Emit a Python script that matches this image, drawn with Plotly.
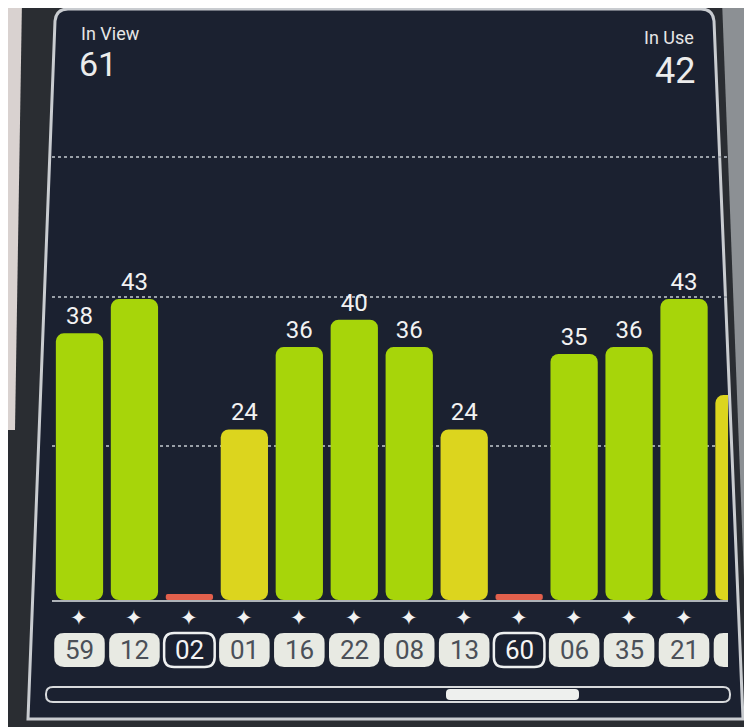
import plotly.graph_objects as go

# satellites shown in the signal strength view
prn = ["59", "12", "02", "01", "16", "22", "08", "13", "60", "06", "35", "21", ""]
snr = [38, 43, 0, 24, 36, 40, 36, 24, 0, 35, 36, 43, 29]
outlined = ["02", "60"]
in_view = 61
in_use = 42
grid_vals = [21.6, 43.3, 63.7]

W, H = 752, 727
OFF = 8  # page margin the browser puts round the figure
ML, MR, MT, MB = 44, 32, 112, 135
BASE = -0.87
SX = W - ML - MR
SY = H - MT - MB


def px2x(px):
    return (px - OFF - ML) / SX


def py2y(py):
    return (H - MB - (py - OFF)) / SY


def bar_color(v):
    if v >= 30:
        return "#a7d50a"
    if v >= 10:
        return "#dcd51e"
    return "#e2604c"


def rounded(x0, x1, y0, y1, rx, ry):
    return ("M %f,%f L %f,%f Q %f,%f %f,%f L %f,%f Q %f,%f %f,%f "
            "L %f,%f Q %f,%f %f,%f L %f,%f Q %f,%f %f,%f Z") % (
        x0 + rx, y1, x1 - rx, y1, x1, y1, x1, y1 - ry,
        x1, y0 + ry, x1, y0, x1 - rx, y0,
        x0 + rx, y0, x0, y0, x0, y0 + ry,
        x0, y1 - ry, x0, y1, x0 + rx, y1)


idx = list(range(len(snr)))
colors = [bar_color(v) for v in snr]
labels = [str(v) if v > 0 and p else "" for v, p in zip(snr, prn)]

fig = go.Figure()
fig.add_trace(go.Bar(
    x=idx,
    y=[v - BASE for v in snr],
    base=BASE,
    width=0.86,
    marker=dict(color=colors, line=dict(width=0), cornerradius=8),
    text=labels,
    textposition="outside",
    textfont=dict(family="Roboto", size=24, color="#f2f2f2"),
    cliponaxis=True,
    hoverinfo="skip",
))

shapes = []
# photo surroundings: bezel, paper, phone edge
shapes.append(dict(type="rect", xref="paper", yref="paper", layer="below",
                   x0=px2x(0), x1=px2x(W + 10), y0=py2y(0), y1=py2y(H + 10),
                   fillcolor="#2a2d32", line=dict(width=0)))
shapes.append(dict(type="path", xref="paper", yref="paper", layer="below",
                   path="M %f,%f L %f,%f L %f,%f L %f,%f Z" % (
                       px2x(0), py2y(0), px2x(22), py2y(0),
                       px2x(15), py2y(430), px2x(0), py2y(430)),
                   fillcolor="#d9d2d0", line=dict(width=0)))
shapes.append(dict(type="path", xref="paper", yref="paper", layer="below",
                   path="M %f,%f L %f,%f L %f,%f L %f,%f Z" % (
                       px2x(722), py2y(0), px2x(W + 10), py2y(0),
                       px2x(W + 10), py2y(H + 10), px2x(750), py2y(H + 10)),
                   fillcolor="#8c9094", line=dict(width=0)))
# screen
r = 12
tl, tr, br, bl = (56, 9), (713, 9), (743, 719), (28, 719)
screen = "M %f,%f L %f,%f Q %f,%f %f,%f L %f,%f L %f,%f L %f,%f Q %f,%f %f,%f Z" % (
    px2x(tl[0] + r), py2y(tl[1]),
    px2x(tr[0] - r), py2y(tr[1]),
    px2x(tr[0]), py2y(tr[1]), px2x(tr[0] + 1), py2y(tr[1] + r),
    px2x(br[0]), py2y(br[1]),
    px2x(bl[0]), py2y(bl[1]),
    px2x(tl[0] - 1), py2y(tl[1] + r),
    px2x(tl[0]), py2y(tl[1]), px2x(tl[0] + r), py2y(tl[1]))
shapes.append(dict(type="path", xref="paper", yref="paper", layer="below",
                   path=screen, fillcolor="#1b2130",
                   line=dict(color="#c9ccd0", width=3)))

# scroll bar
shapes.append(dict(type="path", xref="paper", yref="paper", layer="above",
                   path=rounded(px2x(46), px2x(730), py2y(702), py2y(687),
                                7 / SX, 7 / SY),
                   fillcolor="#1b2130", line=dict(color="#d8dadc", width=2)))
shapes.append(dict(type="path", xref="paper", yref="paper", layer="above",
                   path=rounded(px2x(446), px2x(579), py2y(700), py2y(689),
                                4 / SX, 4 / SY),
                   fillcolor="#eef0ee", line=dict(width=0)))

# satellite id boxes under each bar
unit = SX / 12.3
annotations = []
for i, p in zip(idx, prn):
    hi = p in outlined
    shapes.append(dict(
        type="path", xref="x", yref="paper", layer="above",
        path=rounded(i - 0.46, i + 0.46, py2y(667), py2y(633), 10 / unit, 10 / SY),
        fillcolor="#1b2130" if hi else "#e8eae3",
        line=dict(color="#eef0f0", width=2.5 if hi else 0)))
    if not p:
        continue
    annotations.append(dict(
        x=i, y=py2y(650), xref="x", yref="paper", yanchor="middle",
        text=p, showarrow=False,
        font=dict(family="Roboto", size=26, color="#f4f4f4" if hi else "#4b5058")))
    annotations.append(dict(
        x=i, y=py2y(618), xref="x", yref="paper", yanchor="middle",
        text="✦", showarrow=False,
        font=dict(family="DejaVu Sans", size=21, color="#f2f2f2")))

annotations += [
    dict(x=px2x(79), y=py2y(33), xref="paper", yref="paper", xanchor="left",
         yanchor="middle", text="In View", showarrow=False,
         font=dict(family="Roboto", size=18, color="#e6e6e6")),
    dict(x=px2x(77), y=py2y(64), xref="paper", yref="paper", xanchor="left",
         yanchor="middle", text=str(in_view), showarrow=False,
         font=dict(family="Roboto", size=34, color="#ececec")),
    dict(x=px2x(696), y=py2y(38), xref="paper", yref="paper", xanchor="right",
         yanchor="middle", text="In Use", showarrow=False,
         font=dict(family="Roboto", size=18, color="#e6e6e6")),
    dict(x=px2x(697), y=py2y(71), xref="paper", yref="paper", xanchor="right",
         yanchor="middle", text=str(in_use), showarrow=False,
         font=dict(family="Roboto", size=36, color="#ececec")),
]

fig.update_layout(
    width=W, height=H,
    margin=dict(l=ML, r=MR, t=MT, b=MB),
    paper_bgcolor="#2a2d32",
    plot_bgcolor="rgba(0,0,0,0)",
    showlegend=False,
    shapes=shapes,
    annotations=annotations,
    xaxis=dict(range=[-0.5, 11.8], showticklabels=False, showgrid=False,
               zeroline=False, showline=True, linecolor="#aeb3b8", linewidth=1.5,
               ticks=""),
    yaxis=dict(range=[BASE, 69.1], tickvals=grid_vals, showticklabels=False,
               showgrid=True, griddash="dot", gridcolor="#9aa0a8", gridwidth=1.5,
               zeroline=False, showline=False, ticks=""),
)

fig.write_html("out.html")
